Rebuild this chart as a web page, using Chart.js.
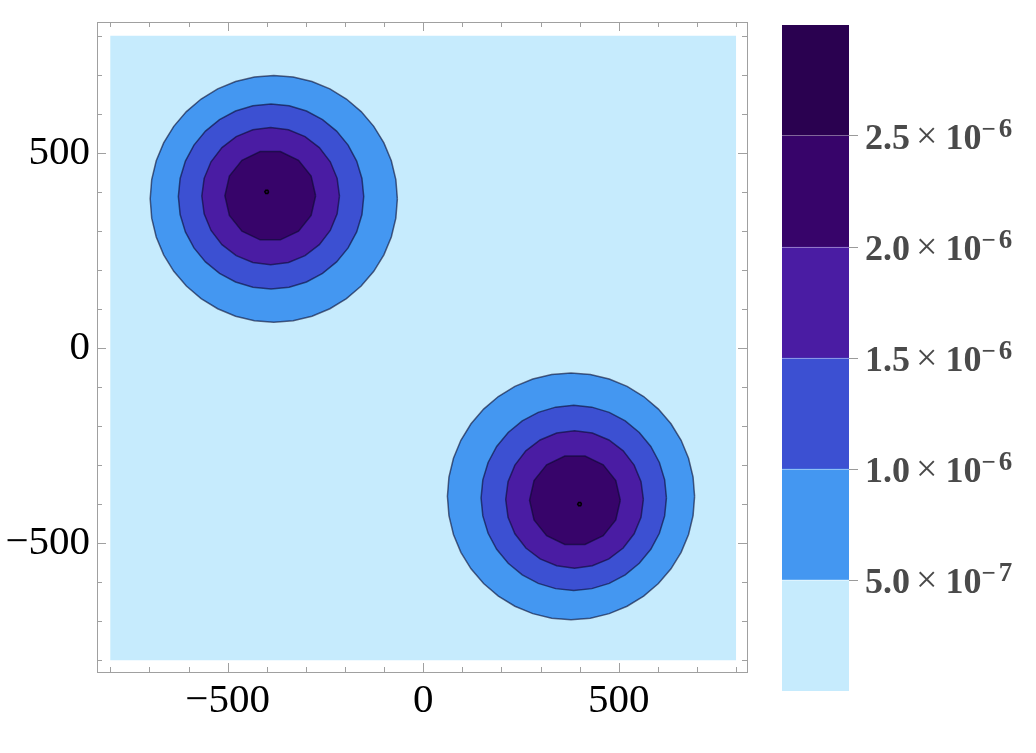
<!DOCTYPE html>
<html>
<head>
<meta charset="utf-8">
<script src="https://cdn.jsdelivr.net/npm/chart.js@4.4.1/dist/chart.umd.min.js"></script>
<style>
body { margin: 0; background: #fff; }
#wrap { position: relative; width: 1036px; height: 753px; }
#main { position: absolute; left: 0; top: 0; width: 1036px; height: 753px; }
#bar { position: absolute; left: 770px; top: 0; width: 266px; height: 753px; }
</style>
</head>
<body>
<div id="wrap">
  <div id="main"><canvas id="contour"></canvas></div>
  <div id="bar"><canvas id="legend"></canvas></div>
</div>
<script>
// contour levels and the band colours between them (lowest band first)
const levels = [5e-7, 1e-6, 1.5e-6, 2e-6, 2.5e-6];
const bandColors = ['#c6ebfd', '#4497f1', '#3c50d2', '#4a1ca3', '#37046a', '#2a0150'];
const barEdges = [0, 5e-7, 1e-6, 1.5e-6, 2e-6, 2.5e-6, 3e-6];
const levelMant = ['5.0', '1.0', '1.5', '2.0', '2.5'];
const levelExp = ['7', '6', '6', '6', '6'];

// contour rings round the two peaks, one entry per level
const ringX1 = [-382, -389, -390, -391, -400];
const ringY1 = [382, 388, 389, 390, 400];
const ringX2 = [378, 385, 387, 388, 400];
const ringY2 = [-380, -384, -388, -390, -400];
const ringR = [316, 237, 176, 116, 5];
const ringSides = [40, 32, 24, 14, 6];

const domain = [-800, 800];
const majorTicks = [-500, 0, 500];
const minorTicks = [-800, -700, -600, -500, -400, -300, -200, -100, 0,
                    100, 200, 300, 400, 500, 600, 700, 800];

function ring(cx, cy, r, n) {
    const pts = [];
    for (let i = 0; i <= n; i++) {
        const a = 2 * Math.PI * i / n;
        pts.push({x: cx + r * Math.cos(a), y: cy + r * Math.sin(a)});
    }
    return pts;
}

function fmt(v) {
    return v < 0 ? '\u2212' + (-v) : '' + v;
}

const datasets = [{
    data: [{x: domain[0], y: domain[0]}, {x: domain[1], y: domain[0]},
           {x: domain[1], y: domain[1]}, {x: domain[0], y: domain[1]},
           {x: domain[0], y: domain[0]}],
    backgroundColor: bandColors[0],
    borderWidth: 0,
    fill: 'shape',
    order: 10
}];
[[ringX1, ringY1], [ringX2, ringY2]].forEach(([rx, ry]) => {
    ringR.forEach((r, i) => {
        datasets.push({
            data: ring(rx[i], ry[i], r, ringSides[i]),
            backgroundColor: bandColors[i + 1],
            borderColor: i == 4 ? '#000' : 'rgba(10,10,45,0.6)',
            borderWidth: 1.5,
            fill: 'shape',
            order: 9 - i
        });
    });
});

const framePlugin = {
    id: 'frame',
    afterDatasetsDraw(chart) {
        const {ctx, chartArea: a, scales: {x, y}} = chart;
        ctx.save();
        ctx.strokeStyle = '#a0a0a0';
        ctx.lineWidth = 1;
        ctx.strokeRect(a.left + 0.5, a.top + 0.5, a.right - a.left, a.bottom - a.top);
        ctx.beginPath();
        minorTicks.forEach(v => {
            const len = majorTicks.includes(v) ? 9 : 5;
            const px = Math.round(x.getPixelForValue(v)) + 0.5;
            ctx.moveTo(px, a.bottom); ctx.lineTo(px, a.bottom - len);
            ctx.moveTo(px, a.top); ctx.lineTo(px, a.top + len);
            const py = Math.round(y.getPixelForValue(v)) + 0.5;
            ctx.moveTo(a.left, py); ctx.lineTo(a.left + len, py);
            ctx.moveTo(a.right, py); ctx.lineTo(a.right - len, py);
        });
        ctx.stroke();
        ctx.restore();
    }
};

const tickFont = {family: 'Liberation Serif', size: 41};

new Chart(document.getElementById('contour'), {
    type: 'line',
    data: {datasets: datasets},
    options: {
        animation: false,
        responsive: true,
        maintainAspectRatio: false,
        layout: {padding: {top: 22, right: 289, bottom: 0, left: 0}},
        plugins: {legend: {display: false}, tooltip: {enabled: false}},
        elements: {point: {radius: 0}, line: {tension: 0}},
        scales: {
            x: {
                type: 'linear', min: -834, max: 828,
                afterBuildTicks: s => { s.ticks = majorTicks.map(v => ({value: v})); },
                afterFit: s => { s.height = 81; s.paddingLeft = 0; s.paddingRight = 0; },
                grid: {display: false, drawTicks: false},
                border: {display: false},
                ticks: {font: tickFont, color: '#000', padding: 5, callback: fmt, maxRotation: 0, autoSkip: false}
            },
            y: {
                type: 'linear', min: -830, max: 835,
                afterBuildTicks: s => { s.ticks = majorTicks.map(v => ({value: v})); },
                afterFit: s => { s.width = 97; s.paddingTop = 0; s.paddingBottom = 0; },
                grid: {display: false, drawTicks: false},
                border: {display: false},
                ticks: {font: tickFont, color: '#000', padding: 7, callback: fmt, autoSkip: false}
            }
        }
    },
    plugins: [framePlugin]
});

// colour bar labels: mantissa x 10^exp, the exponent raised
const labelPlugin = {
    id: 'barLabels',
    afterDraw(chart) {
        const {ctx, chartArea: a, scales: {y}} = chart;
        ctx.save();
        ctx.fillStyle = '#4a4a4a';
        ctx.textBaseline = 'alphabetic';
        levels.forEach((v, i) => {
            const tick = y.getPixelForValue(v);
            const py = tick + 13;
            let px = a.right + 16;
            ctx.font = 'bold 36px "Liberation Serif"';
            ctx.fillText(levelMant[i], px, py);
            px += ctx.measureText(levelMant[i]).width + 6;
            ctx.font = '38px "Liberation Serif"';
            ctx.fillText('\u00d7', px, py - 1);
            px += ctx.measureText('\u00d7').width + 8;
            ctx.font = 'bold 36px "Liberation Serif"';
            ctx.fillText('10', px, py);
            px += ctx.measureText('10').width;
            ctx.font = 'bold 25px "Liberation Serif"';
            ctx.fillText('\u2212', px, tick + 1);
            px += ctx.measureText('\u2212').width + 3;
            ctx.font = 'bold 27px "Liberation Serif"';
            ctx.fillText(levelExp[i], px, tick + 1);
        });
        ctx.restore();
    }
};

new Chart(document.getElementById('legend'), {
    type: 'bar',
    data: {
        labels: [''],
        datasets: bandColors.map((c, i) => ({
            data: [[barEdges[i], barEdges[i + 1]]],
            backgroundColor: c,
            borderWidth: 0,
            grouped: false,
            barPercentage: 1,
            categoryPercentage: 1
        }))
    },
    options: {
        animation: false,
        responsive: true,
        maintainAspectRatio: false,
        layout: {padding: {left: 12, top: 25, bottom: 62, right: 0}},
        plugins: {legend: {display: false}, tooltip: {enabled: false}},
        scales: {
            x: {display: false},
            y: {
                position: 'right', min: 0, max: 3e-6,
                afterBuildTicks: s => { s.ticks = levels.map(v => ({value: v})); },
                afterFit: s => { s.width = 187; s.paddingTop = 0; s.paddingBottom = 0; },
                grid: {color: 'rgba(255,255,255,0.4)', tickColor: '#9a9a9a', tickLength: 9, z: 1},
                border: {display: false},
                ticks: {display: false}
            }
        }
    },
    plugins: [labelPlugin]
});
</script>
</body>
</html>
